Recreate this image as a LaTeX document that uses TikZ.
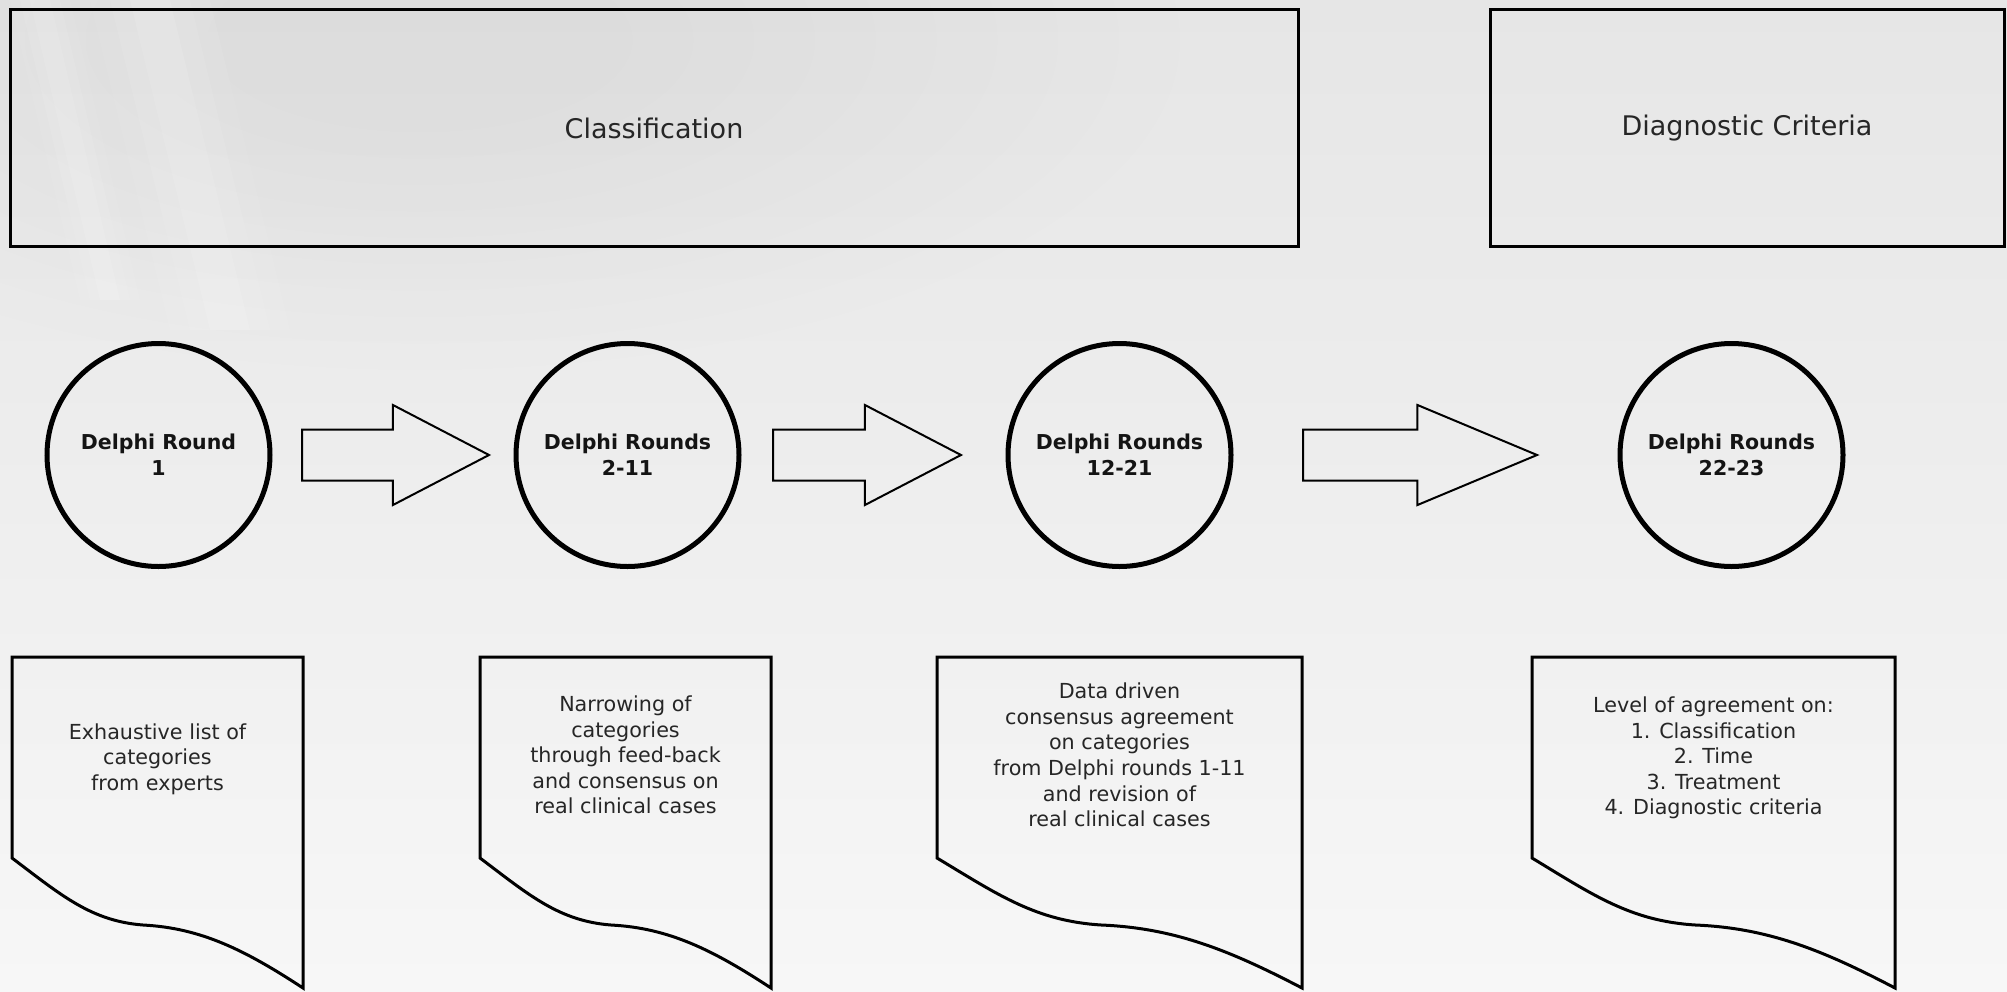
\documentclass[tikz,border=0pt]{standalone}
\usepackage{fontspec}
\setmainfont{DejaVu Sans}
\usetikzlibrary{shapes.arrows}
\definecolor{txt}{HTML}{262626}
\definecolor{txtb}{HTML}{141414}
\definecolor{bgtop}{HTML}{E6E6E6}
\definecolor{bgmid}{HTML}{EEEEEE}
\definecolor{bgbot}{HTML}{F7F7F7}
\newcommand\docpath[2]{%
  \begin{scope}[shift={(#1,0)}, xscale=#2/291]
    \draw[docline] (0,858) -- (0,657) -- (291,657) -- (291,988)
      .. controls (233,950) and (189,928) .. (131,925)
      .. controls (79,921) and (49,895) .. (0,858) -- cycle;
  \end{scope}}
\begin{document}
\begin{tikzpicture}[x=1pt,y=-1pt,
  titlebox/.style={draw=black, line width=3pt, inner sep=0pt,
    minimum height=237pt, text=txt, font=\fontsize{27}{32}\selectfont},
  roundnode/.style={circle, draw=black, line width=5pt, inner sep=0pt,
    minimum size=223pt, align=center, text=txtb,
    font=\bfseries\fontsize{20.5}{25.6}\selectfont},
  blockarrow/.style={single arrow, draw=black, line width=2pt,
    inner xsep=0pt, inner ysep=24.5pt, text height=0pt, text depth=0pt,
    outer sep=0pt, single arrow head extend=24.5pt, anchor=tail},
  doctext/.style={align=center, inner sep=0pt, text=txt,
    font=\fontsize{20.7}{25.6}\selectfont},
  docline/.style={draw=black, line width=3pt, line join=miter}]
  \useasboundingbox (0,0) rectangle (2007,991);
  % background
  \shade[top color=bgtop, bottom color=bgbot, middle color=bgmid] (0,0) rectangle (2007,991);
  \foreach \k in {1,0.92,...,0.2}{
    \fill[black, opacity=0.0045] (420,40) ellipse [x radius=760*\k, y radius=330*\k];
  }
  \foreach \w/\o in {60/0.06,40/0.08,20/0.10}{
    \fill[white, opacity=\o] (150-\w,0) -- (150+\w,0) -- (230+\w,330) -- (230-\w,330) -- cycle;
    \fill[white, opacity=\o] (40-\w/2,0) -- (40+\w/2,0) -- (110+\w/2,300) -- (110-\w/2,300) -- cycle;
  }
  % title boxes
  \node[titlebox, minimum width=1288pt] (cls) at (654,128) {Classification};
  \node[titlebox, minimum width=514pt] (dia) at (1747,128) {Diagnostic Criteria};
  % circles
  \node[roundnode] (r1) at (158.5,455) {Delphi Round\\1};
  \node[roundnode] (r2) at (627.5,455) {Delphi Rounds\\2-11};
  \node[roundnode] (r3) at (1119.5,455) {Delphi Rounds\\12-21};
  \node[roundnode] (r4) at (1731.5,455) {Delphi Rounds\\22-23};
  % block arrows
  \node[blockarrow, minimum height=187pt, single arrow tip angle=55] (a1) at (302,455) {};
  \node[blockarrow, minimum height=188pt, single arrow tip angle=55] (a2) at (773,455) {};
  \node[blockarrow, minimum height=234pt, single arrow tip angle=45.4] (a3) at (1303,455) {};
  % document shapes
  \docpath{12}{291}
  \docpath{480}{291}
  \docpath{937}{365}
  \docpath{1532}{363}
  \node[doctext] (d1) at (157.5,759) {Exhaustive list of\\categories\\from experts};
  \node[doctext] (d2) at (625.5,755) {Narrowing of\\categories\\through feed-back\\and consensus on\\real clinical cases};
  \node[doctext] (d3) at (1119.5,755) {Data driven\\consensus agreement\\on categories\\from Delphi rounds 1-11\\and revision of\\real clinical cases};
  \node[doctext] (d4) at (1713.5,758) {Level of agreement on:\\1. Classification\\2. Time\\3. Treatment\\4. Diagnostic criteria};
\end{tikzpicture}
\end{document}
